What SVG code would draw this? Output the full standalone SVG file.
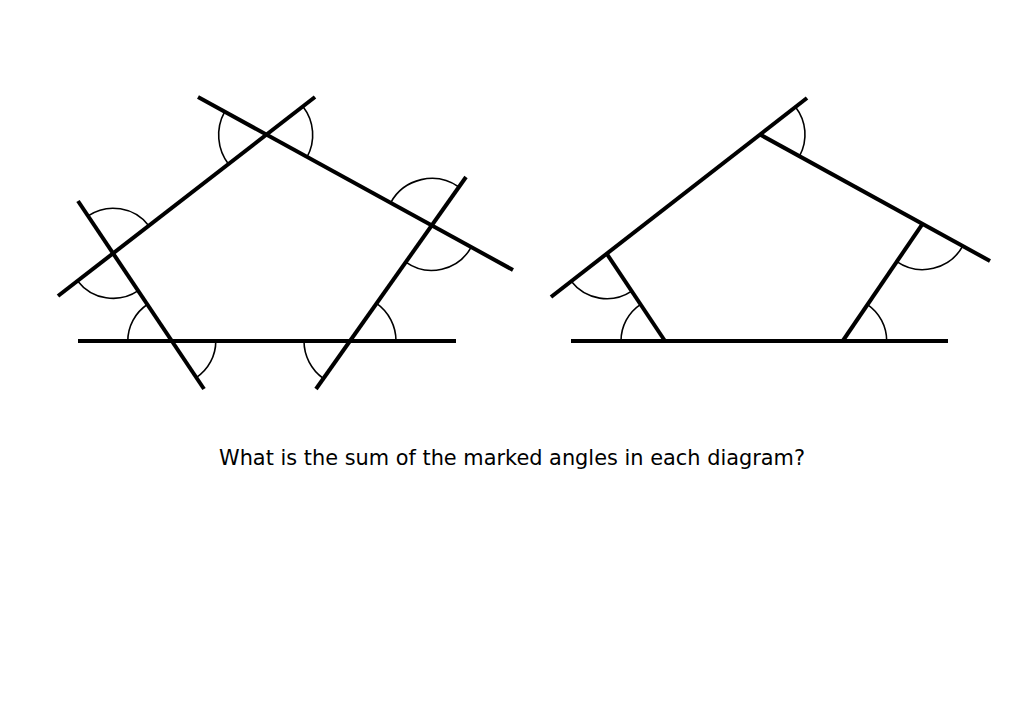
<svg xmlns="http://www.w3.org/2000/svg" width="1023" height="708" viewBox="0 0 1023 708">
<style>
.ln{stroke:#000;stroke-width:4;fill:none;stroke-linecap:butt}
.arc{stroke:#000;stroke-width:1.6;fill:none}
.q{font-family:"DejaVu Sans","Liberation Sans",sans-serif;font-size:22px;fill:#000}
</style>
<rect width="1023" height="708" fill="#fff"/>
<g id="left-diagram">
  <g id="left-lines">
    <line class="ln" x1="58" y1="296" x2="315" y2="97"/>
    <line class="ln" x1="78" y1="201" x2="204" y2="389"/>
    <line class="ln" x1="198" y1="97" x2="513" y2="270"/>
    <line class="ln" x1="466" y1="177" x2="316" y2="389"/>
    <line class="ln" x1="78" y1="341" x2="456" y2="341"/>
  </g>
  <g id="left-arcs">
    <path class="arc" d="M224.6,111.9 A48,48 0 0 0 228.7,164.4"/>
    <path class="arc" d="M303.1,106.8 A46,46 0 0 1 307,157.1"/>
    <path class="arc" d="M88.1,215.9 A45,45 0 0 1 148.8,225.7"/>
    <path class="arc" d="M77.6,280.9 A45,45 0 0 0 138.3,290.7"/>
    <path class="arc" d="M127.8,341 A44,44 0 0 1 147.3,304.5"/>
    <path class="arc" d="M215.8,341 A44,44 0 0 1 196.3,377.6"/>
    <path class="arc" d="M304,341 A46,46 0 0 0 323.4,378.5"/>
    <path class="arc" d="M396,341 A46,46 0 0 0 376.6,303.4"/>
    <path class="arc" d="M390.6,202.8 A47,47 0 0 1 458.9,187"/>
    <path class="arc" d="M405.8,262.1 A45,45 0 0 0 471.2,247.1"/>
  </g>
</g>
<g id="right-diagram">
  <g id="right-lines">
    <line class="ln" x1="551" y1="297" x2="807" y2="98"/>
    <line class="ln" x1="760" y1="134.5" x2="990" y2="261"/>
    <line class="ln" x1="606.7" y1="253.7" x2="665" y2="341"/>
    <line class="ln" x1="922.7" y1="223.6" x2="842.7" y2="341"/>
    <line class="ln" x1="571" y1="341" x2="948" y2="341"/>
  </g>
  <g id="right-arcs">
    <path class="arc" d="M795.5,106.9 A45,45 0 0 1 799.5,156.1"/>
    <path class="arc" d="M896.8,261.6 A46,46 0 0 0 963,245.7"/>
    <path class="arc" d="M886.7,341 A44,44 0 0 0 867.5,304.7"/>
    <path class="arc" d="M621,341 A44,44 0 0 1 640.6,304.4"/>
    <path class="arc" d="M571.2,281.3 A45,45 0 0 0 631.7,291.1"/>
  </g>
</g>
<g id="question">
  <text class="q" x="219" y="465" textLength="586" lengthAdjust="spacingAndGlyphs">What is the sum of the marked angles in each diagram?</text>
</g>
</svg>
